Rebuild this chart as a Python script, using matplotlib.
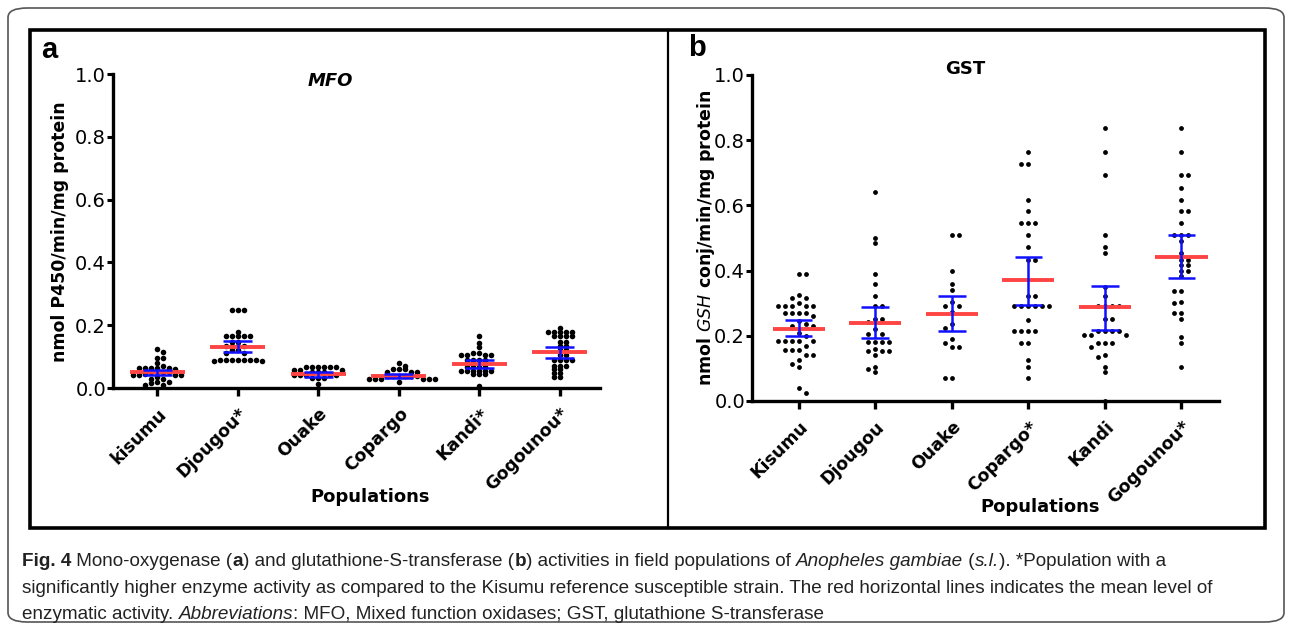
import matplotlib

matplotlib.use("Agg")
import matplotlib.pyplot as plt
import numpy as np
from matplotlib.lines import Line2D
from matplotlib.patches import FancyBboxPatch, Rectangle

W, H, DPI = 1290, 630, 100

POP_A = ["kisumu", "Djougou*", "Ouake", "Copargo", "Kandi*", "Gogounou*"]
POP_B = ["Kisumu", "Djougou", "Ouake", "Copargo*", "Kandi", "Gogounou*"]
YTICKS = [0.0, 0.2, 0.4, 0.6, 0.8, 1.0]

# MFO, nmol P450/min/mg protein
mfo_kisumu = [0.124, 0.114, 0.096, 0.096, 0.080, 0.070, 0.064, 0.064, 0.064, 0.064, 0.064,
              0.060, 0.050, 0.050, 0.050, 0.050, 0.046, 0.040, 0.040, 0.040, 0.040,
              0.034, 0.030, 0.030, 0.020, 0.020, 0.015, 0.010, 0.010]
mfo_djougou = [0.250, 0.250, 0.250, 0.178, 0.165, 0.165, 0.165, 0.165, 0.165, 0.148, 0.148,
               0.135, 0.135, 0.135, 0.135, 0.122, 0.122, 0.112, 0.112, 0.090, 0.090, 0.090,
               0.090, 0.090, 0.090, 0.090, 0.085, 0.085]
mfo_ouake = [0.066, 0.066, 0.066, 0.066, 0.066, 0.066, 0.058, 0.058, 0.058, 0.050, 0.050,
             0.050, 0.040, 0.040, 0.040, 0.040, 0.040, 0.032, 0.032, 0.032, 0.014]
mfo_copargo = [0.080, 0.071, 0.059, 0.059, 0.059, 0.050, 0.050, 0.050, 0.037, 0.037, 0.037,
               0.037, 0.037, 0.037, 0.028, 0.028, 0.028, 0.028, 0.028, 0.028, 0.018]
mfo_kandi = [0.165, 0.144, 0.131, 0.112, 0.112, 0.104, 0.104, 0.104, 0.104, 0.090, 0.090,
             0.090, 0.090, 0.078, 0.078, 0.078, 0.078, 0.067, 0.067, 0.067, 0.067, 0.055,
             0.055, 0.055, 0.055, 0.055, 0.055, 0.044, 0.044, 0.044, 0.007]
mfo_gogounou = [0.191, 0.178, 0.178, 0.178, 0.178, 0.178, 0.165, 0.165, 0.165, 0.165, 0.145,
                0.145, 0.133, 0.133, 0.120, 0.120, 0.105, 0.105, 0.090, 0.090, 0.090, 0.090,
                0.071, 0.071, 0.071, 0.059, 0.059, 0.048, 0.048, 0.035, 0.035]
mfo_mean = [0.050, 0.131, 0.043, 0.037, 0.077, 0.114]
mfo_sem_hi = [0.058, 0.151, 0.050, 0.045, 0.088, 0.131]
mfo_sem_lo = [0.040, 0.114, 0.036, 0.032, 0.064, 0.096]

# GST, nmol GSH conj/min/mg protein
gst_kisumu = [0.390, 0.390, 0.325, 0.315, 0.315, 0.300, 0.290, 0.290, 0.290, 0.290, 0.290,
              0.270, 0.270, 0.270, 0.270, 0.260, 0.245, 0.235, 0.230, 0.230, 0.210, 0.200,
              0.185, 0.185, 0.185, 0.185, 0.185, 0.170, 0.155, 0.155, 0.155, 0.140, 0.140,
              0.125, 0.115, 0.105, 0.040, 0.025]
gst_djougou = [0.640, 0.500, 0.484, 0.390, 0.358, 0.323, 0.290, 0.290, 0.252, 0.252, 0.242,
               0.222, 0.207, 0.207, 0.182, 0.182, 0.182, 0.182, 0.160, 0.154, 0.154, 0.154,
               0.142, 0.105, 0.098, 0.088]
gst_ouake = [0.510, 0.510, 0.400, 0.358, 0.340, 0.303, 0.290, 0.290, 0.272, 0.235, 0.225,
             0.190, 0.179, 0.167, 0.167, 0.071, 0.071]
gst_copargo = [0.765, 0.727, 0.727, 0.618, 0.583, 0.545, 0.545, 0.545, 0.508, 0.472, 0.434,
               0.434, 0.323, 0.323, 0.290, 0.290, 0.290, 0.290, 0.290, 0.290, 0.250, 0.215,
               0.215, 0.215, 0.215, 0.179, 0.179, 0.127, 0.105, 0.071]
gst_kandi = [0.838, 0.765, 0.692, 0.508, 0.472, 0.454, 0.351, 0.323, 0.290, 0.290, 0.290,
             0.290, 0.252, 0.252, 0.215, 0.215, 0.215, 0.215, 0.202, 0.202, 0.202, 0.179,
             0.179, 0.179, 0.167, 0.142, 0.135, 0.105, 0.088, 0.000]
gst_gogounou = [0.838, 0.765, 0.692, 0.692, 0.654, 0.618, 0.583, 0.583, 0.545, 0.508, 0.508,
                0.508, 0.490, 0.454, 0.434, 0.434, 0.416, 0.416, 0.400, 0.400, 0.382, 0.338,
                0.338, 0.303, 0.300, 0.269, 0.269, 0.252, 0.197, 0.179, 0.105]
gst_mean = [0.220, 0.240, 0.268, 0.370, 0.288, 0.442]
gst_sem_hi = [0.248, 0.287, 0.323, 0.442, 0.354, 0.510]
gst_sem_lo = [0.198, 0.192, 0.214, 0.296, 0.219, 0.376]

RED = "#ff4444"
BLUE = "#1010ff"
FONT = "DejaVu Sans"


def px(x, y):
    """pixel (from top-left) -> figure fraction"""
    return x / W, 1 - y / H


def swarm_offsets(vals, ppx_y, row_h, d):
    """Sideways offsets (px): two dots clash when closer than d across AND row_h vertically."""
    vals = np.asarray(vals)
    order = np.argsort(-vals, kind="stable")
    placed = []
    out = np.zeros(len(vals))
    for n, idx in enumerate(order):
        y = vals[idx] * ppx_y
        k = 0
        while True:
            signs = (1,) if k == 0 else ((1, -1) if n % 2 else (-1, 1))
            hit = None
            for sgn in signs:
                x = sgn * k * d / 2
                if all(abs(x - qx) >= d - 1e-6 or abs(y - qy) >= row_h for qx, qy in placed):
                    hit = x
                    break
            if hit is not None:
                break
            k += 1
        placed.append((hit, y))
        out[idx] = hit
    return out


def draw_panel(ax, groups, means, hi, lo, labels, xlim, dot_s, row_h, d):
    ax.set_xlim(*xlim)
    ax.set_ylim(0, 1.0)
    bb = ax.get_window_extent()
    ppx_x = bb.width / (xlim[1] - xlim[0])
    ppx_y = bb.height / 1.0
    for i, vals in enumerate(groups):
        offs = swarm_offsets(vals, ppx_y, row_h, d)
        ax.scatter(i + offs / ppx_x, vals, s=dot_s, color="black", lw=0, zorder=3, clip_on=False)
        ax.hlines(means[i], i - 0.34, i + 0.34, color=RED, lw=2.8, zorder=4)
        ax.vlines(i, lo[i], hi[i], color=BLUE, lw=1.8, zorder=5)
        ax.hlines([lo[i], hi[i]], i - 0.18, i + 0.18, color=BLUE, lw=1.8, zorder=5)
    for s in ("top", "right"):
        ax.spines[s].set_visible(False)
    for s in ("left", "bottom"):
        ax.spines[s].set_linewidth(2.4)
    ax.set_yticks(YTICKS)
    ax.set_yticklabels([f"{t:.1f}" for t in YTICKS], fontsize=14, family=FONT)
    ax.set_xticks(range(len(labels)))
    ax.set_xticklabels(labels, rotation=45, ha="right", rotation_mode="anchor",
                       fontsize=12.5, fontweight="bold", family=FONT)
    ax.tick_params(axis="y", length=4, width=2.2, pad=1)
    ax.tick_params(axis="x", length=6, width=2.4, pad=6)


fig = plt.figure(figsize=(W / DPI, H / DPI), dpi=DPI)

# outer rounded border and panel frame
fig.patches.append(FancyBboxPatch((8 / W, 8 / H), 1276 / W, 614 / H,
                                  boxstyle="round,pad=0,rounding_size=0.015",
                                  transform=fig.transFigure, fill=False, ec="#555555", lw=1.2))
fig.patches.append(Rectangle((30 / W, 1 - 528 / H), 1235 / W, 498 / H, transform=fig.transFigure,
                             fill=False, ec="black", lw=2.6))
fig.lines.append(Line2D([668 / W, 668 / W], [1 - 528 / H, 1 - 30 / H], transform=fig.transFigure,
                        color="black", lw=1.6))

ax_a = fig.add_axes([113 / W, 1 - 388 / H, 487 / W, 314 / H])
ax_b = fig.add_axes([752 / W, 1 - 401 / H, 467 / W, 326 / H])

draw_panel(ax_a, [mfo_kisumu, mfo_djougou, mfo_ouake, mfo_copargo, mfo_kandi, mfo_gogounou],
           mfo_mean, mfo_sem_hi, mfo_sem_lo, POP_A, (-0.55, 5.5), 16, 3.4, 6.0)
draw_panel(ax_b, [gst_kisumu, gst_djougou, gst_ouake, gst_copargo, gst_kandi, gst_gogounou],
           gst_mean, gst_sem_hi, gst_sem_lo, POP_B, (-0.61, 5.49), 12, 5.0, 7.0)

# panel letters, titles, axis labels
fig.text(*px(49, 50), "a", fontsize=21, fontweight="bold", ha="center", va="center", family="Liberation Sans")
fig.text(*px(697, 48), "b", fontsize=21, fontweight="bold", ha="center", va="center", family="Liberation Sans")
fig.text(*px(330, 81), "MFO", fontsize=13, fontweight="bold", style="italic", ha="center", va="center", family=FONT)
fig.text(*px(965, 69), "GST", fontsize=13, fontweight="bold", ha="center", va="center", family=FONT)
fig.text(*px(60, 232), "nmol P450/min/mg protein", rotation=90, fontsize=12.5, fontweight="bold",
         ha="center", va="center", family=FONT)
fig.text(*px(706, 238), r"nmol $\mathit{GSH}$ conj/min/mg protein", rotation=90, fontsize=12.5,
         fontweight="bold", ha="center", va="center", family=FONT)
fig.text(*px(370, 497), "Populations", fontsize=13, fontweight="bold", ha="center", va="center", family=FONT)
fig.text(*px(1040, 507), "Populations", fontsize=13, fontweight="bold", ha="center", va="center", family=FONT)

# caption, drawn run by run so bold / italic pieces sit inline
CAP_FONT = ["Liberation Sans", "DejaVu Sans"]
caption = [
    [("Fig. 4", "bold", "normal"), (" Mono-oxygenase (", "normal", "normal"), ("a", "bold", "normal"),
     (") and glutathione-S-transferase (", "normal", "normal"), ("b", "bold", "normal"),
     (") activities in field populations of ", "normal", "normal"),
     ("Anopheles gambiae", "normal", "italic"), (" (", "normal", "normal"), ("s.l.", "normal", "italic"),
     ("). *Population with a", "normal", "normal")],
    [("significantly higher enzyme activity as compared to the Kisumu reference susceptible strain. "
      "The red horizontal lines indicates the mean level of", "normal", "normal")],
    [("enzymatic activity. ", "normal", "normal"), ("Abbreviations", "normal", "italic"),
     (": MFO, Mixed function oxidases; GST, glutathione S-transferase", "normal", "normal")],
]
renderer = fig.canvas.get_renderer()
for row, y in zip(caption, (566, 593, 619)):
    x = 22
    for s, weight, style in row:
        t = fig.text(*px(x, y), s, fontsize=13.6, fontweight=weight, style=style, color="#222222",
                     va="baseline", ha="left", family=CAP_FONT)
        x += t.get_window_extent(renderer=renderer).width

fig.savefig("out.png", dpi=DPI)
